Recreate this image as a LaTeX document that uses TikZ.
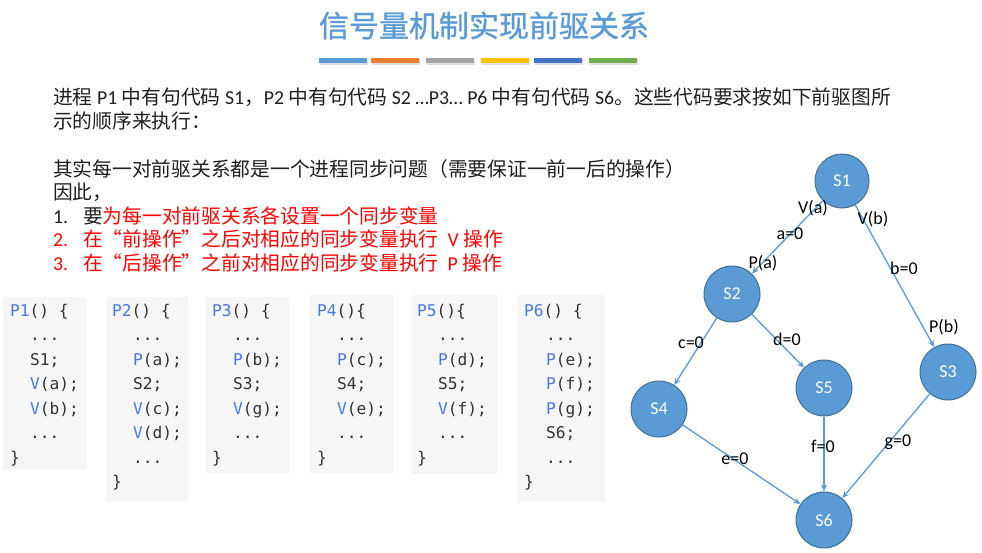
\documentclass[tikz,border=0pt]{standalone}
\usepackage{fontspec}
\setmainfont{Carlito}
\newfontfamily\cjk{Noto Sans CJK SC}
\newfontfamily\cjktitle[FakeBold=1]{Noto Sans CJK SC}
\newfontfamily\codefont{DejaVu Sans Mono}
\usetikzlibrary{arrows.meta}
\definecolor{accent}{HTML}{5B9BD5}
\definecolor{accentdark}{HTML}{41719C}
\definecolor{barB}{HTML}{ED7D31}
\definecolor{barC}{HTML}{A5A5A5}
\definecolor{barD}{HTML}{FFC000}
\definecolor{barE}{HTML}{4472C4}
\definecolor{barF}{HTML}{70AD47}
\definecolor{cbg}{HTML}{F6F6F6}
\definecolor{kwblue}{HTML}{4777E8}
\definecolor{codegray}{HTML}{333333}
\definecolor{txt}{HTML}{1F1F1F}
\definecolor{redtxt}{HTML}{FF0000}
\newcommand\z[1]{{\cjk #1}}
\newcommand\kw[1]{\textcolor{kwblue}{#1}}
\newcommand\cln[4]{\node[codetxt] (#1) at (#2,#3) {#4};}
\tikzset{
  codetxt/.style={font=\codefont\fontsize{16.2}{19}\selectfont, text=codegray, anchor=base west, inner sep=0pt},
  codebox/.style={fill=cbg, draw=none, anchor=north west, inner sep=0pt},
  para/.style={font=\fontsize{19.75}{23}\selectfont, text=txt, anchor=base west, inner sep=0pt},
  state/.style={circle, fill=accent, draw=accentdark, line width=1pt, minimum size=56pt, inner sep=0pt, text=white, font=\fontsize{18}{20}\selectfont},
  edge/.style={draw=accent, line width=1.3pt, -{Stealth[length=7pt,width=6pt]}},
  lbl/.style={font=\fontsize{18}{20}\selectfont, text=black, inner sep=0pt},
  bar/.style={inner sep=0pt, minimum height=5pt, minimum width=48pt, anchor=north west}
}
\begin{document}
\begin{tikzpicture}[x=1pt,y=-1pt]
\useasboundingbox[fill=white] (0,0) rectangle (982,552);

% title
\node[font=\cjktitle\fontsize{30}{36}\selectfont, text=accent] (title) at (484,25.5) {信号量机制实现前驱关系};
% coloured bars with soft shadow
\foreach \x/\c [count=\i] in {319/accent,371/barB,426/barC,481/barD,534/barE,589/barF}{
  \fill[black, opacity=0.12] (\x+1,59.5) rectangle ++(48,5.5);
  \node[bar, fill=\c] (bar\i) at (\x,58) {};
}

% paragraph
\node[para] (l1) at (53,104) {\z{进程} P1 \z{中有句代码} S1\z{，}P2 \z{中有句代码} S2 …P3… P6 \z{中有句代码} S6\z{。这些代码要求按如下前驱图所}};
\node[para] (l2) at (53,128) {\z{示的顺序来执行：}};
\node[para] (l3) at (53,176) {\z{其实每一对前驱关系都是一个进程同步问题（需要保证一前一后的操作）}};
\node[para] (l4) at (53,199.5) {\z{因此，}};
\node[para] (n1) at (53,223) {1.};
\node[para] (l5) at (83,223) {\z{要}\textcolor{redtxt}{\z{为每一对前驱关系各设置一个同步变量}}};
\node[para, text=redtxt] (n2) at (53,246.5) {2.};
\node[para, text=redtxt] (l6) at (83,246.5) {\z{在“前操作”之后对相应的同步变量执行}\hspace{9pt}V \z{操作}};
\node[para, text=redtxt] (n3) at (53,270) {3.};
\node[para, text=redtxt] (l7) at (83,270) {\z{在“后操作”之前对相应的同步变量执行}\hspace{9pt}P \z{操作}};

% code boxes
\node[codebox, minimum width=84pt, minimum height=173pt] (b1) at (3,297) {};
\node[codebox, minimum width=82pt, minimum height=205pt] (b2) at (106,297) {};
\node[codebox, minimum width=83pt, minimum height=176pt] (b3) at (206,297) {};
\node[codebox, minimum width=83pt, minimum height=178pt] (b4) at (310,295) {};
\node[codebox, minimum width=85pt, minimum height=179pt] (b5) at (412,295) {};
\node[codebox, minimum width=88pt, minimum height=207pt] (b6) at (517,295) {};

% P1
\cln{p1a}{10}{316}{\kw{P1}() \{}
\cln{p1b}{30}{340.5}{...}
\cln{p1c}{30}{365}{S1;}
\cln{p1d}{30}{389.5}{\kw{V}(a);}
\cln{p1e}{30}{414}{\kw{V}(b);}
\cln{p1f}{30}{438.5}{...}
\cln{p1g}{10}{463}{\}}
% P2
\cln{p2a}{112}{316}{\kw{P2}() \{}
\cln{p2b}{133}{340.5}{...}
\cln{p2c}{133}{365}{\kw{P}(a);}
\cln{p2d}{133}{389.5}{S2;}
\cln{p2e}{133}{414}{\kw{V}(c);}
\cln{p2f}{133}{438.5}{\kw{V}(d);}
\cln{p2g}{133}{463}{...}
\cln{p2h}{112}{487.5}{\}}
% P3
\cln{p3a}{212}{316}{\kw{P3}() \{}
\cln{p3b}{233}{340.5}{...}
\cln{p3c}{233}{365}{\kw{P}(b);}
\cln{p3d}{233}{389.5}{S3;}
\cln{p3e}{233}{414}{\kw{V}(g);}
\cln{p3f}{233}{438.5}{...}
\cln{p3g}{212}{463}{\}}
% P4
\cln{p4a}{317}{316}{\kw{P4}()\{}
\cln{p4b}{337}{340.5}{...}
\cln{p4c}{337}{365}{\kw{P}(c);}
\cln{p4d}{337}{389.5}{S4;}
\cln{p4e}{337}{414}{\kw{V}(e);}
\cln{p4f}{337}{438.5}{...}
\cln{p4g}{317}{463}{\}}
% P5
\cln{p5a}{417}{316}{\kw{P5}()\{}
\cln{p5b}{438}{340.5}{...}
\cln{p5c}{438}{365}{\kw{P}(d);}
\cln{p5d}{438}{389.5}{S5;}
\cln{p5e}{438}{414}{\kw{V}(f);}
\cln{p5f}{438}{438.5}{...}
\cln{p5g}{417}{463}{\}}
% P6
\cln{p6a}{524}{316}{\kw{P6}() \{}
\cln{p6b}{546}{340.5}{...}
\cln{p6c}{546}{365}{\kw{P}(e);}
\cln{p6d}{546}{389.5}{\kw{P}(f);}
\cln{p6e}{546}{414}{\kw{P}(g);}
\cln{p6f}{546}{438.5}{S6;}
\cln{p6g}{546}{463}{...}
\cln{p6h}{524}{487.5}{\}}

% precedence graph
\node[state, minimum size=54pt] (s1) at (842,181) {S1};
\node[state] (s2) at (732,294) {S2};
\node[state] (s3) at (948,372) {S3};
\node[state] (s4) at (659,409) {S4};
\node[state] (s5) at (824,388) {S5};
\node[state] (s6) at (824,520) {S6};

\draw[edge] (s1) -- (s2);
\draw[edge] (s1) -- (s3);
\draw[edge] (s2) -- (s4);
\draw[edge] (s2) -- (s5);
\draw[edge] (s4) -- (s6);
\draw[edge] (s5) -- (s6);
\draw[edge] (s3) -- (s6);

\node[lbl] (va) at (813,208) {V(a)};
\node[lbl] (a0) at (790,234) {a=0};
\node[lbl] (pa) at (763,263) {P(a)};
\node[lbl] (vb) at (873,219) {V(b)};
\node[lbl] (b0) at (904,268) {b=0};
\node[lbl] (pb) at (944,327) {P(b)};
\node[lbl] (c0) at (691,343) {c=0};
\node[lbl] (d0) at (787,339) {d=0};
\node[lbl] (e0) at (735,459) {e=0};
\node[lbl] (f0) at (823,446) {f=0};
\node[lbl] (g0) at (898,442) {g=0};
\end{tikzpicture}
\end{document}
